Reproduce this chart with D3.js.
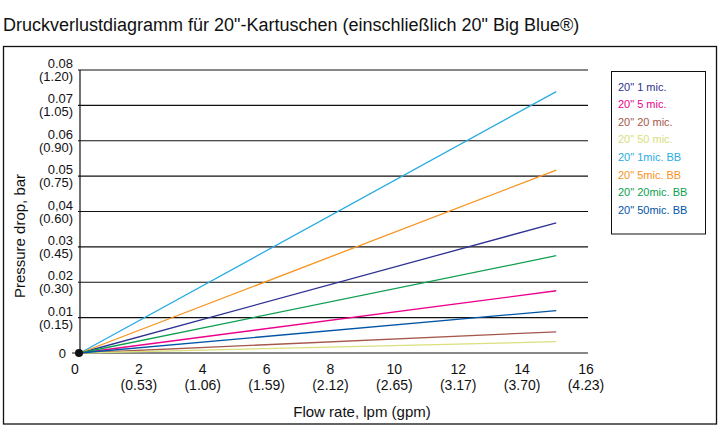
<!DOCTYPE html>
<html>
<head>
<meta charset="utf-8">
<script src="https://cdn.jsdelivr.net/npm/d3@7"></script>
<style>
  body { margin: 0; background: #fff; }
  svg { display: block; font-family: "Liberation Sans", Arial, sans-serif; }
</style>
</head>
<body>
<svg id="chart" width="722" height="430"></svg>
<script>
// data
const flowPoints = [0, 15];
const seriesNames = ["20\" 1 mic.", "20\" 5 mic.", "20\" 20 mic.", "20\" 50 mic.",
  "20\" 1mic. BB", "20\" 5mic. BB", "20\" 20mic. BB", "20\" 50mic. BB"];
const seriesColors = ["#2e3192", "#ec008c", "#a5574a", "#d9e07c",
  "#29abe2", "#f7931e", "#0d9f4f", "#0054a6"];
const seriesValues = [
  [0, 0.0368],
  [0, 0.0176],
  [0, 0.0060],
  [0, 0.0032],
  [0, 0.0739],
  [0, 0.0517],
  [0, 0.0275],
  [0, 0.0120]
];
const yTicks = [0, 0.01, 0.02, 0.03, 0.04, 0.05, 0.06, 0.07, 0.08];
const yTickBar = ["0", "0.01", "0.02", "0.03", "0,04", "0.05", "0.06", "0.07", "0.08"];
const yTickPsi = ["", "(0.15)", "(0.30)", "(0.45)", "(0.60)", "(0.75)", "(0.90)", "(1.05)", "(1.20)"];
const xTicks = [0, 2, 4, 6, 8, 10, 12, 14, 16];
const xTickGpm = ["", "(0.53)", "(1.06)", "(1.59)", "(2.12)", "(2.65)", "(3.17)", "(3.70)", "(4.23)"];

const svg = d3.select("#chart");

// outer frame
svg.append("rect").attr("x", 3.5).attr("y", 46.5).attr("width", 713).attr("height", 377.5)
  .attr("fill", "none").attr("stroke", "#111").attr("stroke-width", 1.3);

svg.append("text").attr("x", 3).attr("y", 31).attr("font-size", 18).attr("fill", "#111")
  .text("Druckverlustdiagramm für 20\"-Kartuschen (einschließlich 20\" Big Blue®)");

const x = d3.scaleLinear().domain([0, 16]).range([80, 588]);
// the tick labels in the original sit slightly left of the data positions
const xLab = d3.scaleLinear().domain([0, 16]).range([75, 586]);
const y = d3.scaleLinear().domain([0, 0.08]).range([353, 70]);

// horizontal grid
svg.append("g").selectAll("line").data(yTicks).join("line")
  .attr("x1", d => d === 0 ? 72 : 78).attr("x2", x(16))
  .attr("y1", d => y(d)).attr("y2", d => y(d))
  .attr("stroke", "#111").attr("stroke-width", 1.2);

// y axis line
svg.append("line").attr("x1", x(0)).attr("x2", x(0)).attr("y1", y(0.08)).attr("y2", y(0))
  .attr("stroke", "#111").attr("stroke-width", 1.2);

// y tick labels
const yl = svg.append("g").attr("font-size", 13).attr("fill", "#111").attr("text-anchor", "end");
yTicks.forEach((t, i) => {
  if (t === 0) {
    yl.append("text").attr("x", 66).attr("y", y(t) + 5).text(yTickBar[i]);
  } else {
    yl.append("text").attr("x", 73).attr("y", y(t) - 2).text(yTickBar[i]);
    yl.append("text").attr("x", 73).attr("y", y(t) + 11).text(yTickPsi[i]);
  }
});

// x tick labels
const xl = svg.append("g").attr("font-size", 14).attr("fill", "#111").attr("text-anchor", "middle");
xTicks.forEach((t, i) => {
  xl.append("text").attr("x", xLab(t)).attr("y", 374).text(t);
  if (xTickGpm[i]) xl.append("text").attr("x", xLab(t)).attr("y", 390).text(xTickGpm[i]);
});

svg.append("text").attr("x", 362).attr("y", 417).attr("font-size", 15).attr("fill", "#111")
  .attr("text-anchor", "middle").text("Flow rate, lpm (gpm)");

svg.append("text").attr("transform", "translate(25,236) rotate(-90)").attr("font-size", 15)
  .attr("fill", "#111").attr("text-anchor", "middle").text("Pressure drop, bar");

// series lines
const line = d3.line().x((d, i) => x(flowPoints[i])).y(d => y(d));
svg.append("g").selectAll("path").data(seriesValues).join("path")
  .attr("d", d => line(d)).attr("fill", "none")
  .attr("stroke", (d, i) => seriesColors[i]).attr("stroke-width", 1.3);

// origin dot
svg.append("circle").attr("cx", x(0) - 1).attr("cy", y(0)).attr("r", 4).attr("fill", "#111");

// legend
const lg = svg.append("g");
lg.append("rect").attr("x", 611.5).attr("y", 71.5).attr("width", 94).attr("height", 162.5)
  .attr("fill", "#fff").attr("stroke", "#111").attr("stroke-width", 1);
lg.selectAll("text").data(seriesNames).join("text")
  .attr("x", 618).attr("y", (d, i) => 90.5 + i * 17.6)
  .attr("font-size", 11).attr("fill", (d, i) => seriesColors[i]).text(d => d);
</script>
</body>
</html>
